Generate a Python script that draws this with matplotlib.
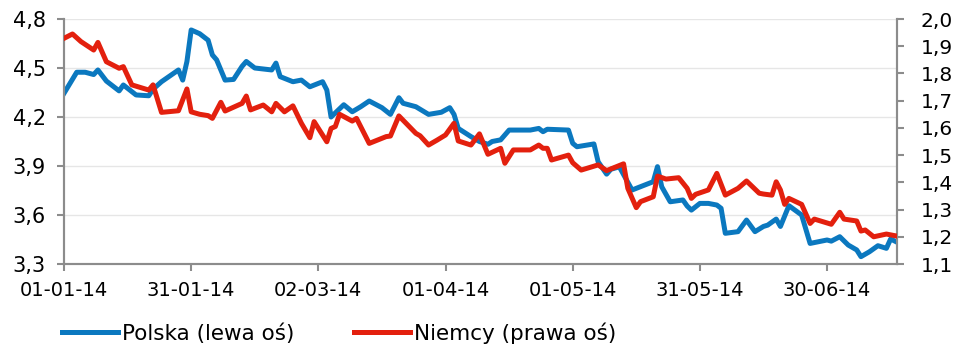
import numpy as np
import pandas as pd
import matplotlib
matplotlib.use("Agg")
import matplotlib.pyplot as plt
import matplotlib.dates as mdates
from matplotlib.ticker import FuncFormatter

# 10Y bond yields, Poland (left axis) and Germany (right axis), 2014
pl_dates = ["2014-01-01", "2014-01-04", "2014-01-06", "2014-01-08", "2014-01-09", "2014-01-11",
            "2014-01-14", "2014-01-15", "2014-01-18", "2014-01-21", "2014-01-22", "2014-01-24",
            "2014-01-28", "2014-01-29", "2014-01-30", "2014-01-31", "2014-02-02", "2014-02-04",
            "2014-02-05", "2014-02-06", "2014-02-08", "2014-02-10", "2014-02-12", "2014-02-13",
            "2014-02-15", "2014-02-19", "2014-02-20", "2014-02-21", "2014-02-24", "2014-02-26",
            "2014-02-28", "2014-03-03", "2014-03-04", "2014-03-05", "2014-03-08", "2014-03-10",
            "2014-03-12", "2014-03-14", "2014-03-17", "2014-03-19", "2014-03-21", "2014-03-22",
            "2014-03-25", "2014-03-28", "2014-03-31", "2014-04-02", "2014-04-03", "2014-04-04",
            "2014-04-07", "2014-04-09", "2014-04-11", "2014-04-12", "2014-04-14", "2014-04-16",
            "2014-04-21", "2014-04-23", "2014-04-24", "2014-04-25", "2014-04-30", "2014-05-01",
            "2014-05-02", "2014-05-06", "2014-05-07", "2014-05-09", "2014-05-10", "2014-05-12",
            "2014-05-15", "2014-05-20", "2014-05-21", "2014-05-22", "2014-05-24", "2014-05-27",
            "2014-05-28", "2014-05-29", "2014-05-31", "2014-06-02", "2014-06-04", "2014-06-05",
            "2014-06-06", "2014-06-09", "2014-06-11", "2014-06-13", "2014-06-15", "2014-06-16",
            "2014-06-18", "2014-06-19", "2014-06-21", "2014-06-24", "2014-06-26", "2014-06-30",
            "2014-07-01", "2014-07-03", "2014-07-05", "2014-07-07", "2014-07-08", "2014-07-10",
            "2014-07-12", "2014-07-14", "2014-07-15", "2014-07-16"]
pl_values = [4.345, 4.474, 4.474, 4.46, 4.488, 4.42,
             4.36, 4.396, 4.335, 4.33, 4.37, 4.416,
             4.488, 4.426, 4.54, 4.733, 4.71, 4.67,
             4.58, 4.55, 4.426, 4.43, 4.51, 4.54,
             4.50, 4.488, 4.53, 4.447, 4.416, 4.426,
             4.385, 4.416, 4.365, 4.20, 4.275, 4.232,
             4.263, 4.298, 4.257, 4.216, 4.318, 4.284,
             4.263, 4.216, 4.229, 4.257, 4.216, 4.13,
             4.08, 4.05, 4.033, 4.05, 4.06, 4.12,
             4.12, 4.13, 4.11, 4.125, 4.12, 4.039,
             4.018, 4.035, 3.926, 3.85, 3.88, 3.895,
             3.753, 3.804, 3.896, 3.773, 3.681, 3.692,
             3.655, 3.63, 3.671, 3.671, 3.661, 3.641,
             3.488, 3.498, 3.569, 3.498, 3.53, 3.538,
             3.575, 3.53, 3.657, 3.60, 3.426, 3.447,
             3.44, 3.467, 3.416, 3.386, 3.345, 3.375,
             3.412, 3.396, 3.453, 3.44]

de_dates = ["2014-01-01", "2014-01-03", "2014-01-05", "2014-01-08", "2014-01-09", "2014-01-11",
            "2014-01-14", "2014-01-15", "2014-01-17", "2014-01-21", "2014-01-22", "2014-01-24",
            "2014-01-28", "2014-01-30", "2014-01-31", "2014-02-02", "2014-02-04", "2014-02-05",
            "2014-02-07", "2014-02-08", "2014-02-12", "2014-02-13", "2014-02-14", "2014-02-17",
            "2014-02-19", "2014-02-20", "2014-02-22", "2014-02-24", "2014-02-26", "2014-02-28",
            "2014-03-01", "2014-03-04", "2014-03-05", "2014-03-06", "2014-03-07", "2014-03-10",
            "2014-03-11", "2014-03-14", "2014-03-18", "2014-03-19", "2014-03-21", "2014-03-25",
            "2014-03-26", "2014-03-28", "2014-03-30", "2014-04-01", "2014-04-03", "2014-04-04",
            "2014-04-07", "2014-04-09", "2014-04-11", "2014-04-14", "2014-04-15", "2014-04-17",
            "2014-04-21", "2014-04-23", "2014-04-24", "2014-04-25", "2014-04-26", "2014-04-30",
            "2014-05-01", "2014-05-03", "2014-05-07", "2014-05-09", "2014-05-13", "2014-05-14",
            "2014-05-16", "2014-05-17", "2014-05-20", "2014-05-21", "2014-05-23", "2014-05-26",
            "2014-05-28", "2014-05-29", "2014-05-30", "2014-06-02", "2014-06-04", "2014-06-06",
            "2014-06-09", "2014-06-11", "2014-06-12", "2014-06-14", "2014-06-15", "2014-06-17",
            "2014-06-18", "2014-06-19", "2014-06-20", "2014-06-21", "2014-06-24", "2014-06-26",
            "2014-06-27", "2014-07-01", "2014-07-03", "2014-07-04", "2014-07-07", "2014-07-08",
            "2014-07-09", "2014-07-11", "2014-07-14", "2014-07-16"]
de_values = [1.929, 1.945, 1.917, 1.886, 1.914, 1.843,
             1.819, 1.825, 1.758, 1.739, 1.758, 1.657,
             1.663, 1.743, 1.659, 1.650, 1.645, 1.635,
             1.694, 1.662, 1.690, 1.717, 1.666, 1.684,
             1.659, 1.690, 1.659, 1.681, 1.617, 1.564,
             1.623, 1.549, 1.598, 1.605, 1.650, 1.625,
             1.635, 1.543, 1.568, 1.570, 1.644, 1.580,
             1.571, 1.537, 1.555, 1.574, 1.617, 1.552,
             1.537, 1.578, 1.503, 1.525, 1.470, 1.519,
             1.519, 1.537, 1.525, 1.525, 1.482, 1.500,
             1.472, 1.445, 1.464, 1.443, 1.468, 1.378,
             1.307, 1.329, 1.347, 1.423, 1.412, 1.417,
             1.378, 1.341, 1.356, 1.372, 1.433, 1.353,
             1.378, 1.405, 1.390, 1.360, 1.357, 1.353,
             1.402, 1.372, 1.319, 1.341, 1.319, 1.249,
             1.265, 1.246, 1.290, 1.265, 1.258, 1.221,
             1.225, 1.200, 1.210, 1.204]

x_ticks = ["2014-01-01", "2014-01-31", "2014-03-02", "2014-04-01",
           "2014-05-01", "2014-05-31", "2014-06-30"]

BLUE = "#0b78bf"
RED = "#e3200e"
GREY = "#8c8c8c"

plt.rcParams["font.family"] = ["DejaVu Sans"]

fig = plt.figure(figsize=(9.55, 3.46), dpi=100)
ax = fig.add_axes([64 / 955, 1 - 264 / 346, (897 - 64) / 955, (264 - 19) / 346])
ax2 = ax.twinx()

l1, = ax.plot(pd.to_datetime(pl_dates), pl_values, color=BLUE, lw=3.6,
              solid_joinstyle="round", label="Polska (lewa oś)", zorder=3)
l2, = ax2.plot(pd.to_datetime(de_dates), de_values, color=RED, lw=3.6,
               solid_joinstyle="round", label="Niemcy (prawa oś)", zorder=3)

ax.set_xlim(pd.Timestamp("2014-01-01"), pd.Timestamp("2014-01-01") + pd.Timedelta(days=196.5))
ax.set_ylim(3.3, 4.8)
ax2.set_ylim(1.1, 2.0)
ax.set_yticks(np.arange(3.3, 4.81, 0.3))
ax2.set_yticks(np.arange(1.1, 2.01, 0.1))
ax.set_xticks(pd.to_datetime(x_ticks))
ax.xaxis.set_major_formatter(mdates.DateFormatter("%d-%m-%y"))

comma = FuncFormatter(lambda v, p: f"{v:.1f}".replace(".", ","))
ax.yaxis.set_major_formatter(comma)
ax2.yaxis.set_major_formatter(comma)

ax.grid(axis="y", color="#e6e6e6", lw=1)
ax.set_axisbelow(True)

for a in (ax, ax2):
    a.spines["top"].set_visible(False)
    for side in ("left", "right", "bottom"):
        a.spines[side].set_color(GREY)
        a.spines[side].set_linewidth(1.5)
    a.tick_params(colors=GREY, width=1.5, length=5, labelcolor="black")
ax.tick_params(axis="x", pad=7, labelsize=14)
ax.tick_params(axis="y", pad=8, labelsize=15)
ax2.tick_params(axis="y", pad=12, labelsize=14.5)

fig.legend(handles=[l1, l2], loc="center left", bbox_to_anchor=(62 / 955, 1 - 333 / 346),
           ncol=2, frameon=False, fontsize=15.5, handlelength=2.6, handletextpad=0.2,
           columnspacing=2.75, borderpad=0, borderaxespad=0)

fig.savefig("out.png", dpi=100)
